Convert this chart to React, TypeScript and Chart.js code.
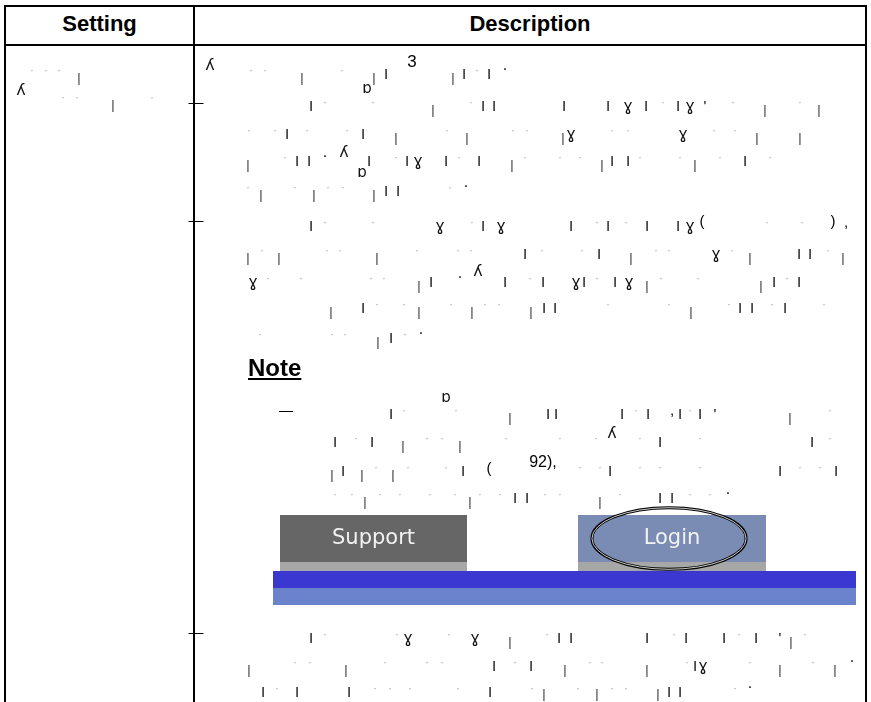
import React, { useEffect, useRef } from 'react';
import { Chart, registerables } from 'chart.js';

Chart.register(...registerables);

// ---- Graphic (button strip) data ----
const buttonLabels = ['Support', 'Login'];
const buttonSpans: [number, number][] = [[7, 194], [305, 493]];
const stripLength = 583;
const stripDepth = 100;
const layerNames = ['face', 'base', 'bandDark', 'bandLight'];
const layerRanges: [number, number][] = [[10, 57], [57, 66], [66, 83], [83, 100]];
const highlightedButton = 'Login';

// ---- Table text ----
const headers = ['Setting', 'Description'];
const noteTitle = 'Note';

type Item = [string, number, number?, number?];
type Row = { top: number; items: Item[] };

const settingRows: Row[] = [
  { top: 68, items: [['.', 32], ['.', 46], ['.', 59], ['|', 79]] },
  { top: 95, items: [['A', 21, -11], ['.', 63], ['.', 77], ['.', 152], ['|', 113]] },
];

const descRows: Row[] = [
  { top: 68, items: [['A', 210, -9], ['.', 251], ['.', 265], ['|', 302], ['.', 342], ['b', 367, 14], ['|', 374], ['I', 386], ['3', 412, -12, 17], ['|', 453], ['I', 464], ['.', 477], ['I', 489], ['o', 505]] },
  { top: 100, items: [['-', 196, 0], ['I', 311], ['.', 325], ['.', 373], ['|', 433], ['.', 471], ['I', 483], ['I', 494], ['I', 564], ['I', 608], ['y', 628], ['I', 646], ['.', 663], ['I', 678], ['y', 690], ["'", 705], ['.', 733], ['|', 765], ['.', 800], ['|', 819]] },
  { top: 128, items: [['.', 249], ['.', 275], ['I', 287], ['.', 307], ['.', 347], ['I', 363], ['|', 396], ['.', 447], ['|', 467], ['.', 513], ['.', 527], ['|', 563], ['y', 571], ['.', 612], ['.', 628], ['y', 683], ['.', 714], ['.', 735], ['|', 757], ['|', 800]] },
  { top: 155, items: [['|', 248], ['.', 285], ['I', 297], ['I', 309], ['o', 325], ['A', 344, -9], ['I', 369], ['.', 396], ['I', 407], ['y', 418], ['I', 446], ['.', 459], ['I', 479], ['|', 512], ['.', 525], ['.', 560], ['.', 580], ['|', 602], ['I', 612], ['I', 628], ['.', 640], ['.', 680], ['|', 695], ['.', 720], ['I', 745], ['.', 770]] },
  { top: 185, items: [['.', 248], ['|', 261], ['.', 295], ['|', 314], ['.', 328], ['.', 343], ['b', 362, -19], ['|', 374], ['I', 386], ['I', 398], ['.', 450], ['o', 466]] },
  { top: 220, items: [['-', 196, -2], ['I', 311], ['.', 325], ['.', 373], ['y', 440], ['.', 472], ['I', 483], ['y', 501], ['I', 571], ['.', 597], ['I', 608], ['.', 626], ['I', 647], ['I', 678], ['y', 690], ['(', 702, -5], ['.', 767], ['.', 802], [')', 833, -5], [',', 846, -4]] },
  { top: 248, items: [['|', 248], ['.', 262], ['|', 279], ['.', 327], ['.', 340], ['|', 377], ['.', 417], ['.', 458], ['.', 471], ['I', 525], ['.', 542], ['.', 582], ['I', 599], ['|', 631], ['.', 656], ['.', 669], ['y', 716], ['.', 732], ['|', 750], ['I', 799], ['I', 810], ['.', 828], ['|', 843]] },
  { top: 276, items: [['y', 253], ['.', 268], ['.', 301], ['.', 371], ['.', 384], ['|', 419], ['I', 431], ['o', 460], ['A', 478, -11], ['I', 505], ['.', 530], ['I', 543], ['y', 576], ['I', 584], ['.', 597], ['I', 615], ['y', 629], ['|', 647], ['.', 661], ['.', 698], ['|', 761], ['I', 774], ['.', 787], ['I', 799]] },
  { top: 302, items: [['|', 331], ['I', 363], ['.', 377], ['.', 404], ['|', 419], ['.', 451], ['|', 472], ['.', 485], ['.', 499], ['|', 531], ['I', 544], ['I', 555], ['.', 608], ['.', 669], ['|', 691], ['.', 729], ['I', 740], ['I', 752], ['.', 772], ['I', 785], ['.', 824]] },
  { top: 332, items: [['.', 260], ['.', 332], ['.', 345], ['|', 378], ['I', 391], ['.', 405], ['o', 421]] },
  // note block
  { top: 408, items: [['-', 286, 0, 14], ['b', 446, -17], ['I', 391], ['.', 404], ['.', 456], ['|', 510], ['I', 548], ['I', 556], ['I', 622], ['.', 636], ['I', 648], [',', 672, -4], ['I', 680], ['.', 690], ['I', 700], ["'", 715], ['|', 790], ['.', 830]] },
  { top: 436, items: [['I', 335], ['.', 356], ['I', 372], ['|', 403], ['.', 427], ['.', 442], ['|', 460], ['.', 506], ['.', 560], ['.', 596], ['A', 612, -9], ['.', 640], ['I', 660], ['.', 700], ['I', 812], ['.', 830]] },
  { top: 465, items: [['|', 332], ['I', 343], ['|', 362], ['.', 376], ['|', 393], ['.', 408], ['.', 446], ['I', 463], ['(', 489, -3], ['92),', 543, -8, 16], ['.', 580], ['.', 600], ['I', 610], ['.', 640], ['.', 660], ['.', 700], ['I', 780], ['.', 800], ['.', 820], ['I', 836]] },
  { top: 492, items: [['.', 335], ['.', 352], ['|', 365], ['.', 380], ['.', 400], ['.', 430], ['.', 455], ['|', 470], ['.', 480], ['.', 500], ['I', 515], ['I', 527], ['.', 545], ['.', 560], ['|', 600], ['.', 620], ['I', 660], ['I', 672], ['.', 690], ['.', 710], ['o', 728]] },
  // last bullet
  { top: 632, items: [['-', 196, -2], ['I', 311], ['.', 325], ['.', 397], ['y', 408], ['.', 449], ['y', 475], ['|', 510], ['.', 547], ['I', 559], ['I', 571], ['I', 647], ['.', 674], ['I', 686], ['I', 724], ['.', 739], ['I', 756], ["'", 780], ['|', 791], ['.', 805]] },
  { top: 660, items: [['|', 249], ['.', 295], ['.', 310], ['|', 346], ['.', 385], ['.', 427], ['.', 442], ['I', 494], ['.', 515], ['I', 531], ['|', 565], ['.', 590], ['.', 602], ['|', 647], ['.', 687], ['I', 695], ['y', 703], ['.', 750], ['|', 780], ['.', 813], ['|', 835], ['o', 852]] },
  { top: 686, items: [['I', 263], ['.', 277], ['I', 297], ['I', 349], ['.', 375], ['.', 390], ['.', 410], ['.', 458], ['I', 490], ['.', 532], ['|', 544, -2], ['.', 578], ['|', 597, -2], ['.', 612], ['.', 626], ['|', 658, -2], ['I', 669], ['I', 680], ['.', 735], ['o', 750]] },
];

const SANS = '"Liberation Sans", Arial, Helvetica, sans-serif';
const DEJAVU = '"DejaVu Sans", sans-serif';

const GLYPHS: Record<string, { ch: string; fs: number; base: number; color: string; family: string }> = {
  I: { ch: 'I', fs: 15, base: 11, color: '#111', family: SANS },
  '|': { ch: '|', fs: 13, base: 13.5, color: '#333', family: SANS },
  '.': { ch: '·', fs: 12, base: 6, color: '#aaa', family: SANS },
  o: { ch: '.', fs: 16, base: 3, color: '#111', family: SANS },
  y: { ch: 'ɣ', fs: 16, base: 12, color: '#111', family: DEJAVU },
  A: { ch: 'ʎ', fs: 16, base: 12, color: '#111', family: DEJAVU },
  b: { ch: 'ɒ', fs: 15, base: 12, color: '#111', family: DEJAVU },
  '-': { ch: '—', fs: 15, base: 7, color: '#000', family: SANS },
};

function Glyphs({ rows }: { rows: Row[] }) {
  const spans: React.ReactNode[] = [];
  rows.forEach((row, ri) => {
    row.items.forEach((it, ii) => {
      const [key, x, dy = 0, fsOverride] = it;
      const g = GLYPHS[key] || { ch: key, fs: 15, base: 11, color: '#000', family: SANS };
      const fs = fsOverride || g.fs;
      const top = row.top + g.base + dy - 0.846 * fs;
      spans.push(
        <span
          key={`${ri}-${ii}`}
          style={{
            position: 'absolute',
            left: x,
            top,
            fontSize: fs,
            lineHeight: `${fs}px`,
            fontFamily: g.family,
            color: g.color,
            whiteSpace: 'pre',
            transform: 'translateX(-50%)',
          }}
        >
          {g.ch}
        </span>
      );
    });
  });
  return (
    <div style={{ position: 'absolute', left: 0, top: 0, width: 871, height: 702, willChange: 'transform', opacity: 0.999 }}>
      {spans}
    </div>
  );
}

function ButtonStrip() {
  const ref = useRef<HTMLCanvasElement>(null);
  useEffect(() => {
    const canvas = ref.current;
    if (!canvas) return;
    const mid = (r: [number, number]) => (r[0] + r[1]) / 2;
    const pxPerUnit = 100 / stripDepth;
    const thick = (r: [number, number]) => (r[1] - r[0]) * pxPerUnit;
    const faceColors = ['#666666', '#7a8cb4'];
    const overlay = {
      id: 'buttonOverlay',
      afterDatasetsDraw(chart: any) {
        const { ctx } = chart;
        const x = chart.scales.x;
        const y = chart.scales.y;
        const f = layerRanges[0];
        const top = y.getPixelForValue(f[0]);
        const bottom = y.getPixelForValue(f[1]);
        const cy = (top + bottom) / 2;
        buttonLabels.forEach((label, i) => {
          const a = x.getPixelForValue(buttonSpans[i][0]);
          const b = x.getPixelForValue(buttonSpans[i][1]);
          const cx = (a + b) / 2;
          ctx.save();
          ctx.font = '21px "DejaVu Sans", sans-serif';
          ctx.fillStyle = '#f2f2f2';
          ctx.textAlign = 'center';
          ctx.textBaseline = 'alphabetic';
          ctx.fillText(label, cx, cy + 5);
          if (label === highlightedButton) {
            const rx = (b - a) * 0.41;
            const ry = (bottom - top) * 0.655;
            ctx.beginPath();
            ctx.ellipse(cx - 3, cy, rx, ry, 0, 0, Math.PI * 2);
            ctx.strokeStyle = '#000';
            ctx.lineWidth = 3;
            ctx.stroke();
            ctx.strokeStyle = '#ffffff';
            ctx.lineWidth = 0.8;
            ctx.stroke();
          }
          ctx.restore();
        });
      },
    };
    const chart = new Chart(canvas, {
      type: 'bar',
      data: {
        datasets: [
          {
            label: layerNames[0],
            data: buttonSpans.map((s) => ({ x: s, y: mid(layerRanges[0]) })),
            backgroundColor: faceColors,
            barThickness: thick(layerRanges[0]),
            stack: 'strip',
          },
          {
            label: layerNames[1],
            data: buttonSpans.map((s) => ({ x: s, y: mid(layerRanges[1]) })),
            backgroundColor: '#a7a7a7',
            barThickness: thick(layerRanges[1]),
            stack: 'strip',
          },
          {
            label: layerNames[2],
            data: [{ x: [0, stripLength], y: mid(layerRanges[2]) }],
            backgroundColor: '#3b38d1',
            barThickness: thick(layerRanges[2]),
            stack: 'strip',
          },
          {
            label: layerNames[3],
            data: [{ x: [0, stripLength], y: mid(layerRanges[3]) }],
            backgroundColor: '#6b83cd',
            barThickness: thick(layerRanges[3]),
            stack: 'strip',
          },
        ] as any,
      },
      options: {
        indexAxis: 'y',
        animation: false,
        responsive: false,
        devicePixelRatio: 1,
        layout: { padding: 0 },
        plugins: { legend: { display: false }, tooltip: { enabled: false } },
        scales: {
          x: { type: 'linear', min: 0, max: stripLength, display: false, stacked: false },
          y: { type: 'linear', min: 0, max: stripDepth, reverse: true, display: false, offset: false },
        },
        datasets: { bar: { borderWidth: 0, inflateAmount: 0 } as any },
      } as any,
      plugins: [overlay],
    });
    return () => chart.destroy();
  }, []);
  return (
    <canvas
      ref={ref}
      width={583}
      height={100}
      style={{ position: 'absolute', left: 273, top: 505, width: 583, height: 100, display: 'block' }}
    />
  );
}

const line = (left: number, top: number, width: number, height: number) => (
  <div style={{ position: 'absolute', left, top, width, height, background: '#000' }} />
);

export default function App() {
  return (
    <div
      style={{
        position: 'absolute',
        left: 0,
        top: 0,
        width: 871,
        height: 702,
        overflow: 'hidden',
        background: '#fff',
        fontFamily: SANS,
      }}
    >
      {line(4, 5, 863, 2)}
      {line(4, 44, 863, 2)}
      {line(4, 5, 2, 697)}
      {line(193, 5, 2, 697)}
      {line(865, 5, 2, 697)}
      <div style={{ position: 'absolute', left: 6, width: 187, top: 13.4, textAlign: 'center', fontWeight: 'bold', fontSize: 22, lineHeight: '22px' }}>
        {headers[0]}
      </div>
      <div style={{ position: 'absolute', left: 195, width: 670, top: 13.4, textAlign: 'center', fontWeight: 'bold', fontSize: 22, lineHeight: '22px' }}>
        {headers[1]}
      </div>
      <Glyphs rows={settingRows} />
      <Glyphs rows={descRows} />
      <div
        style={{
          position: 'absolute',
          left: 248,
          top: 376 - 0.846 * 24,
          fontSize: 24,
          lineHeight: '24px',
          fontWeight: 'bold',
          textDecoration: 'underline',
          textDecorationThickness: 2,
          textUnderlineOffset: 2,
        }}
      >
        {noteTitle}
      </div>
      <ButtonStrip />
    </div>
  );
}
